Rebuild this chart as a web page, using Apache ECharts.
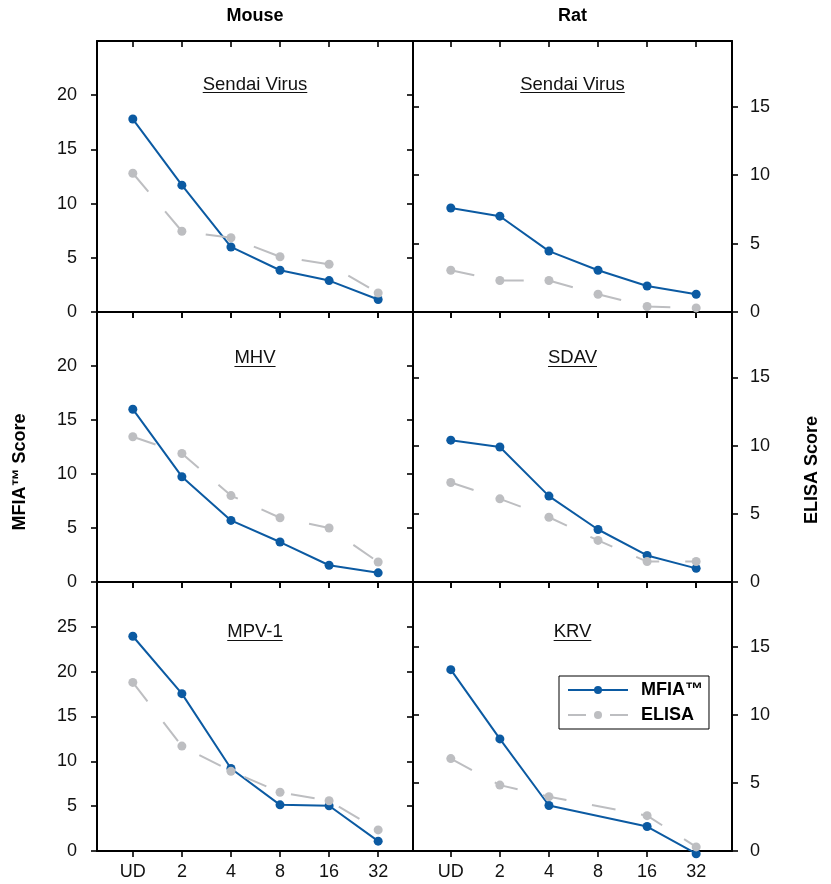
<!DOCTYPE html>
<html>
<head>
<meta charset="utf-8">
<script src="https://cdn.jsdelivr.net/npm/echarts@6/dist/echarts.min.js"></script>
<style>
html,body{margin:0;padding:0;background:#fff;}
#chart{width:831px;height:884px;}
</style>
</head>
<body>
<div id="chart"></div>
<script>
// ---- data ----
const categories = ['UD', '2', '4', '8', '16', '32'];
const columnTitles = ['Mouse', 'Rat'];
const panelTitles = ['Sendai Virus', 'Sendai Virus', 'MHV', 'SDAV', 'MPV-1', 'KRV'];
const seriesNames = ['MFIA\u2122', 'ELISA'];
const leftAxisTitle = 'MFIA\u2122 Score';
const rightAxisTitle = 'ELISA Score';

const mouseSendaiMFIA  = [17.8, 11.7, 6.0, 3.85, 2.9, 1.15];
const mouseSendaiELISA = [12.8, 7.45, 6.85, 5.1, 4.4, 1.75];
const ratSendaiMFIA    = [7.6, 7.0, 4.45, 3.05, 1.9, 1.3];
const ratSendaiELISA   = [3.05, 2.3, 2.3, 1.3, 0.4, 0.3];
const mouseMHVMFIA     = [16.0, 9.75, 5.7, 3.7, 1.55, 0.85];
const mouseMHVELISA    = [13.45, 11.9, 8.0, 5.95, 5.0, 1.85];
const ratSDAVMFIA      = [10.4, 9.9, 6.3, 3.85, 1.95, 1.0];
const ratSDAVELISA     = [7.3, 6.1, 4.75, 3.05, 1.5, 1.5];
const mouseMPVMFIA     = [23.95, 17.55, 9.2, 5.15, 5.05, 1.1];
const mouseMPVELISA    = [18.8, 11.7, 8.9, 6.55, 5.6, 2.35];
const ratKRVMFIA       = [13.35, 8.25, 3.35, null, 1.8, -0.2];
const ratKRVELISA      = [6.8, 4.85, 4.0, null, 2.6, 0.3];

const mouseTicks = [0, 5, 10, 15, 20];
const mouseTicksMPV = [0, 5, 10, 15, 20, 25];
const ratTicks = [0, 5, 10, 15];

// ---- layout / style ----
const FONT = '"Liberation Sans", Arial, Helvetica, sans-serif';
const BLUE = '#0b5aa2';
const GREY = '#bdbec1';
const cols = [{left: 97, width: 316, xmin: -0.73, xmax: 5.71}, {left: 413, width: 319, xmin: -0.77, xmax: 5.73}];
const rows = [{top: 41, height: 271, titleY: 84.5, lineY: 92.5}, {top: 312, height: 270, titleY: 357.5, lineY: 366.5}, {top: 582, height: 269, titleY: 632, lineY: 640.5}];

const panels = [
  {row: 0, col: 0, mfia: mouseSendaiMFIA, elisa: mouseSendaiELISA, max: 25, ticks: mouseTicks},
  {row: 0, col: 1, mfia: ratSendaiMFIA, elisa: ratSendaiELISA, max: 19.8, ticks: ratTicks},
  {row: 1, col: 0, mfia: mouseMHVMFIA, elisa: mouseMHVELISA, max: 25, ticks: mouseTicks},
  {row: 1, col: 1, mfia: ratSDAVMFIA, elisa: ratSDAVELISA, max: 19.8, ticks: ratTicks},
  {row: 2, col: 0, mfia: mouseMPVMFIA, elisa: mouseMPVELISA, max: 30, ticks: mouseTicksMPV},
  {row: 2, col: 1, mfia: ratKRVMFIA, elisa: ratKRVELISA, max: 19.8, ticks: ratTicks}
];

const idx = [0, 1, 2, 3, 4, 5];
const lineAxis = {show: true, onZero: false, lineStyle: {color: '#000', width: 2}};
const tickStyle = {color: '#000', width: 1.6};

const grids = [], xAxes = [], yAxes = [], series = [], graphics = [];

const measure = (function () {
  const c = document.createElement('canvas').getContext('2d');
  return function (text, font) { c.font = font; return c.measureText(text).width; };
})();

panels.forEach(function (p, i) {
  const c = cols[p.col], r = rows[p.row];
  grids.push({left: c.left, top: r.top, width: c.width, height: r.height, containLabel: false});
  const bottomRow = p.row === 2;
  xAxes.push({
    type: 'value', gridIndex: i, position: 'bottom', min: c.xmin, max: c.xmax,
    axisLine: lineAxis,
    axisTick: {show: true, inside: false, length: 6, lineStyle: tickStyle, customValues: idx},
    axisLabel: {show: bottomRow, customValues: idx, margin: 12, color: '#111', fontSize: 18, fontFamily: FONT,
      formatter: function (v) { return categories[Math.round(v)]; }},
    splitLine: {show: false}
  });
  xAxes.push({
    type: 'value', gridIndex: i, position: 'top', min: c.xmin, max: c.xmax,
    axisLine: lineAxis,
    axisTick: {show: true, inside: true, length: 6, lineStyle: tickStyle, customValues: idx},
    axisLabel: {show: false}, splitLine: {show: false}
  });
  const labelled = p.col === 0 ? 'left' : 'right';
  ['left', 'right'].forEach(function (pos) {
    const main = pos === labelled;
    yAxes.push({
      type: 'value', gridIndex: i, position: pos, min: 0, max: p.max,
      axisLine: lineAxis,
      axisTick: {show: true, inside: !main, length: 6, lineStyle: tickStyle, customValues: p.ticks},
      axisLabel: {show: main, customValues: p.ticks, margin: pos === 'left' ? 20 : 18,
        color: '#111', fontSize: 18, fontFamily: FONT},
      splitLine: {show: false}
    });
  });
  const yIndex = i * 2 + (p.col === 0 ? 0 : 1);
  series.push({
    name: seriesNames[0], type: 'line', xAxisIndex: i * 2, yAxisIndex: yIndex,
    data: p.mfia.map(function (v, k) { return [k, v]; }).filter(function (d) { return d[1] !== null; }),
    symbol: 'circle', symbolSize: 9, clip: false, z: 3,
    lineStyle: {color: BLUE, width: 2}, itemStyle: {color: BLUE}
  });
  series.push({
    name: seriesNames[1], type: 'line', xAxisIndex: i * 2, yAxisIndex: yIndex,
    data: p.elisa.map(function (v, k) { return [k, v]; }).filter(function (d) { return d[1] !== null; }),
    symbol: 'circle', symbolSize: 9, clip: false, z: 4,
    lineStyle: {color: GREY, width: 2, type: [24, 26]}, itemStyle: {color: GREY}
  });
  const cx = c.left + c.width / 2;
  const tFont = '18.5px ' + FONT;
  const w = measure(panelTitles[i], tFont);
  graphics.push({type: 'text', x: cx, y: r.titleY,
    style: {text: panelTitles[i], font: tFont, fill: '#111', align: 'center', verticalAlign: 'middle'}});
  graphics.push({type: 'line', shape: {x1: cx - w / 2, y1: r.lineY, x2: cx + w / 2, y2: r.lineY},
    style: {stroke: '#111', lineWidth: 1.2}});
});

columnTitles.forEach(function (t, k) {
  const c = cols[k];
  graphics.push({type: 'text', x: c.left + c.width / 2, y: 16.5,
    style: {text: t, font: 'bold 18px ' + FONT, fill: '#000', align: 'center', verticalAlign: 'middle'}});
});
graphics.push({type: 'text', x: 20, y: 472, rotation: Math.PI / 2,
  style: {text: leftAxisTitle, font: 'bold 18px ' + FONT, fill: '#000', align: 'center', verticalAlign: 'middle'}});
graphics.push({type: 'text', x: 812, y: 470, rotation: Math.PI / 2,
  style: {text: rightAxisTitle, font: 'bold 18px ' + FONT, fill: '#000', align: 'center', verticalAlign: 'middle'}});

const option = {
  animation: false,
  backgroundColor: '#fff',
  grid: grids,
  xAxis: xAxes,
  yAxis: yAxes,
  series: series,
  legend: {
    left: 559, top: 676, orient: 'vertical',
    backgroundColor: '#fff', borderColor: '#000', borderWidth: 1,
    padding: [5, 6, 5, 8], itemWidth: 60, itemHeight: 10, itemGap: 7,
    textStyle: {fontFamily: FONT, fontSize: 18, fontWeight: 'bold', color: '#000', padding: [0, 0, 0, 8]},
    data: [
      {name: seriesNames[0]},
      {name: seriesNames[1], lineStyle: {type: [18, 24]}}
    ]
  },
  graphic: graphics
};

const chart = echarts.init(document.getElementById('chart'), null, {renderer: 'canvas'});
chart.setOption(option);
</script>
</body>
</html>
